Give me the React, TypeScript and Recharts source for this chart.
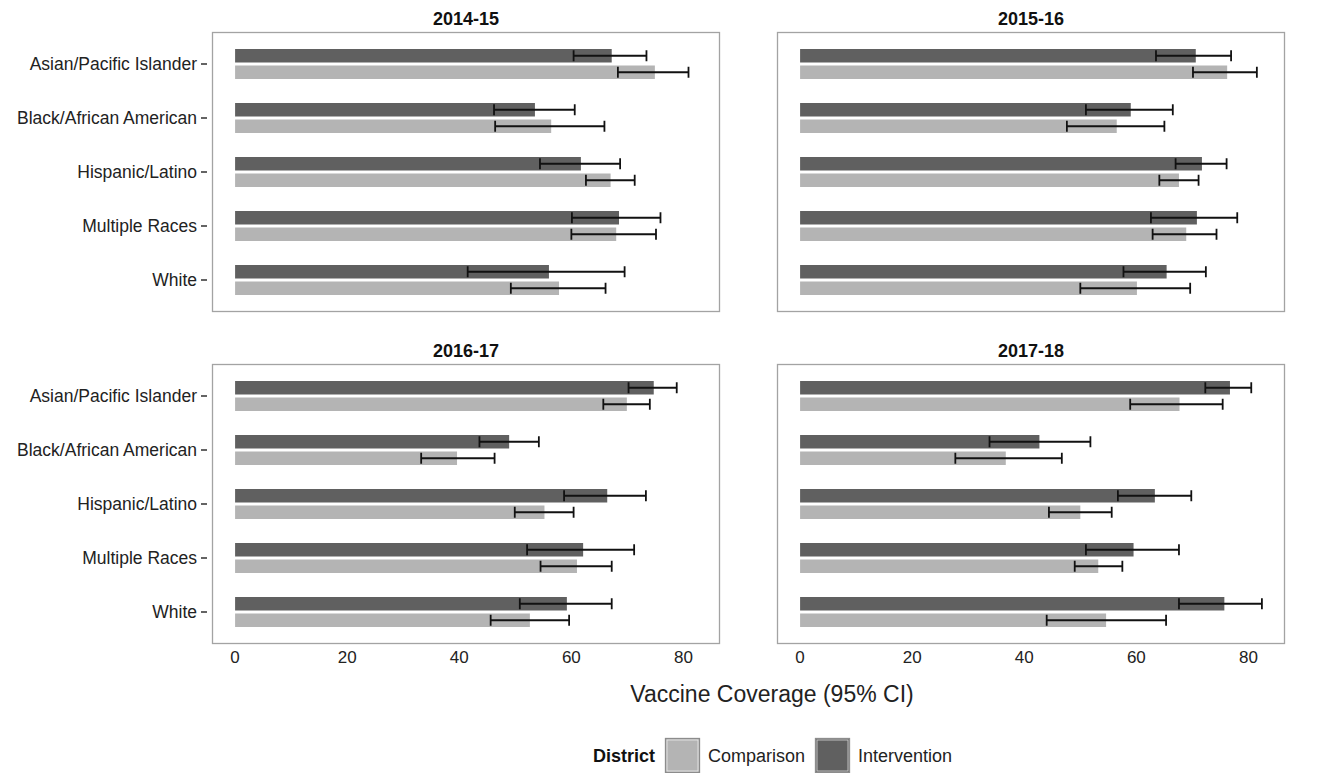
import { BarChart, Bar, XAxis, YAxis, ErrorBar } from "recharts";

const seasons = ["2014-15", "2015-16", "2016-17", "2017-18"];
const races = [
  "Asian/Pacific Islander",
  "Black/African American",
  "Hispanic/Latino",
  "Multiple Races",
  "White",
];
const xTicks = [0, 20, 40, 60, 80];

// one row per season, one value per race
const interventionCoverage = [
  [67.2, 53.5, 61.7, 68.5, 56.0],
  [70.6, 59.0, 71.7, 70.8, 65.4],
  [74.7, 48.9, 66.4, 62.1, 59.2],
  [76.7, 42.7, 63.3, 59.5, 75.7],
];
const interventionLower = [
  [60.4, 46.2, 54.4, 60.1, 41.5],
  [63.5, 51.0, 67.0, 62.6, 57.7],
  [70.2, 43.6, 58.7, 52.1, 50.8],
  [72.3, 33.8, 56.7, 51.0, 67.6],
];
const interventionUpper = [
  [73.4, 60.6, 68.7, 75.9, 69.5],
  [76.9, 66.5, 76.1, 78.0, 72.4],
  [78.8, 54.2, 73.3, 71.2, 67.2],
  [80.5, 51.8, 69.8, 67.6, 82.4],
];
const comparisonCoverage = [
  [74.9, 56.4, 67.0, 68.0, 57.8],
  [76.2, 56.5, 67.6, 68.9, 60.1],
  [69.9, 39.6, 55.2, 61.0, 52.6],
  [67.7, 36.7, 50.0, 53.2, 54.6],
];
const comparisonLower = [
  [68.3, 46.4, 62.6, 60.0, 49.2],
  [70.1, 47.6, 64.1, 62.9, 50.0],
  [65.7, 33.2, 49.9, 54.5, 45.6],
  [58.9, 27.7, 44.4, 49.0, 44.0],
];
const comparisonUpper = [
  [80.9, 65.9, 71.3, 75.1, 66.1],
  [81.5, 65.0, 71.1, 74.3, 69.6],
  [74.0, 46.3, 60.4, 67.2, 59.6],
  [75.4, 46.7, 55.6, 57.5, 65.3],
];

const FONT = "'Liberation Sans', Arial, Helvetica, sans-serif";
const INTERVENTION = "#606060";
const COMPARISON = "#b4b4b4";
const TEXT = "#222";

const PLOT_W = 508;
const PLOT_H = 280;
const Y_AXIS_W = 212;
const X_AXIS_H = 30;
const colLeft = [212, 777];
const rowTop = [32, 364];
const titleBaseline = [25, 357];

const rowsFor = (s: number) =>
  races.map((race, i) => {
    const iv = interventionCoverage[s][i];
    const cv = comparisonCoverage[s][i];
    return {
      race,
      intervention: iv,
      interventionErr: [iv - interventionLower[s][i], interventionUpper[s][i] - iv],
      comparison: cv,
      comparisonErr: [cv - comparisonLower[s][i], comparisonUpper[s][i] - cv],
    };
  });

const RaceTick = ({ y, payload }: any) => (
  <g>
    <line x1={201} x2={207} y1={y} y2={y} stroke={TEXT} strokeWidth={1.4} />
    <text x={197} y={y} dy="0.36em" textAnchor="end" fontSize={17.5} fontFamily={FONT} fill={TEXT}>
      {payload.value}
    </text>
  </g>
);

const CoverageTick = ({ x, payload }: any) => (
  <text x={x} y={PLOT_H + 19} textAnchor="middle" fontSize={17} fontFamily={FONT} fill={TEXT}>
    {payload.value}
  </text>
);

const Facet = ({ s }: { s: number }) => {
  const col = s % 2;
  const row = Math.floor(s / 2);
  const showY = col === 0;
  const showX = row === 1;
  const width = PLOT_W + (showY ? Y_AXIS_W : 0);
  const height = PLOT_H + (showX ? X_AXIS_H : 0);
  return (
    <div
      style={{
        position: "absolute",
        left: showY ? colLeft[col] - Y_AXIS_W : colLeft[col],
        top: rowTop[row],
        width,
        height,
      }}
    >
      <BarChart
        layout="vertical"
        width={width}
        height={height}
        data={rowsFor(s)}
        margin={{ top: 0, right: 0, bottom: 0, left: 0 }}
        barSize={13.5}
        barGap={3}
      >
        <XAxis
          type="number"
          domain={[-4.12, 86.52]}
          ticks={xTicks}
          allowDataOverflow
          hide={!showX}
          height={X_AXIS_H}
          axisLine={false}
          tickLine={false}
          tick={<CoverageTick />}
        />
        <YAxis
          type="category"
          dataKey="race"
          width={Y_AXIS_W}
          hide={!showY}
          axisLine={false}
          tickLine={false}
          interval={0}
          padding={{ top: 5, bottom: 5 }}
          tick={<RaceTick />}
        />
        <Bar dataKey="intervention" fill={INTERVENTION} isAnimationActive={false}>
          <ErrorBar dataKey="interventionErr" direction="x" width={5.5} stroke="#111" strokeWidth={1.8} />
        </Bar>
        <Bar dataKey="comparison" fill={COMPARISON} isAnimationActive={false}>
          <ErrorBar dataKey="comparisonErr" direction="x" width={5.5} stroke="#111" strokeWidth={1.8} />
        </Bar>
      </BarChart>
    </div>
  );
};

export default function App() {
  return (
    <div
      style={{
        position: "absolute",
        left: 0,
        top: 0,
        width: 1340,
        height: 773,
        background: "#fff",
        overflow: "hidden",
        fontFamily: FONT,
      }}
    >
      {seasons.map((_, s) => (
        <Facet key={s} s={s} />
      ))}
      <svg
        width={1340}
        height={773}
        style={{ position: "absolute", left: 0, top: 0, pointerEvents: "none" }}
      >
        {seasons.map((season, s) => {
          const col = s % 2;
          const row = Math.floor(s / 2);
          return (
            <g key={season}>
              <rect
                x={colLeft[col] + 0.5}
                y={rowTop[row] + 0.5}
                width={PLOT_W - 1}
                height={PLOT_H - 1}
                fill="none"
                stroke="#a3a3a3"
                strokeWidth={1.3}
              />
              <text
                x={colLeft[col] + PLOT_W / 2}
                y={titleBaseline[row]}
                textAnchor="middle"
                fontSize={18}
                fontWeight="bold"
                fontFamily={FONT}
                fill="#111"
              >
                {season}
              </text>
            </g>
          );
        })}
        <text x={772} y={702} textAnchor="middle" fontSize={23} fontFamily={FONT} fill={TEXT}>
          Vaccine Coverage (95% CI)
        </text>
        <text x={593} y={762} fontSize={18} fontWeight="bold" fontFamily={FONT} fill="#111">
          District
        </text>
        <rect x={665.5} y={738.5} width={34} height={34} fill={COMPARISON} stroke="#8c8c8c" strokeWidth={1.3} />
        <rect x={667} y={740} width={31} height={31} fill="none" stroke="#ececec" strokeWidth={0.8} />
        <text x={708} y={762} fontSize={18} fontFamily={FONT} fill={TEXT}>
          Comparison
        </text>
        <rect x={815.5} y={738.5} width={34} height={34} fill={INTERVENTION} stroke="#8c8c8c" strokeWidth={1.3} />
        <rect x={817} y={740} width={31} height={31} fill="none" stroke="#d6d6d6" strokeWidth={0.8} />
        <text x={858} y={762} fontSize={18} fontFamily={FONT} fill={TEXT}>
          Intervention
        </text>
      </svg>
    </div>
  );
}
